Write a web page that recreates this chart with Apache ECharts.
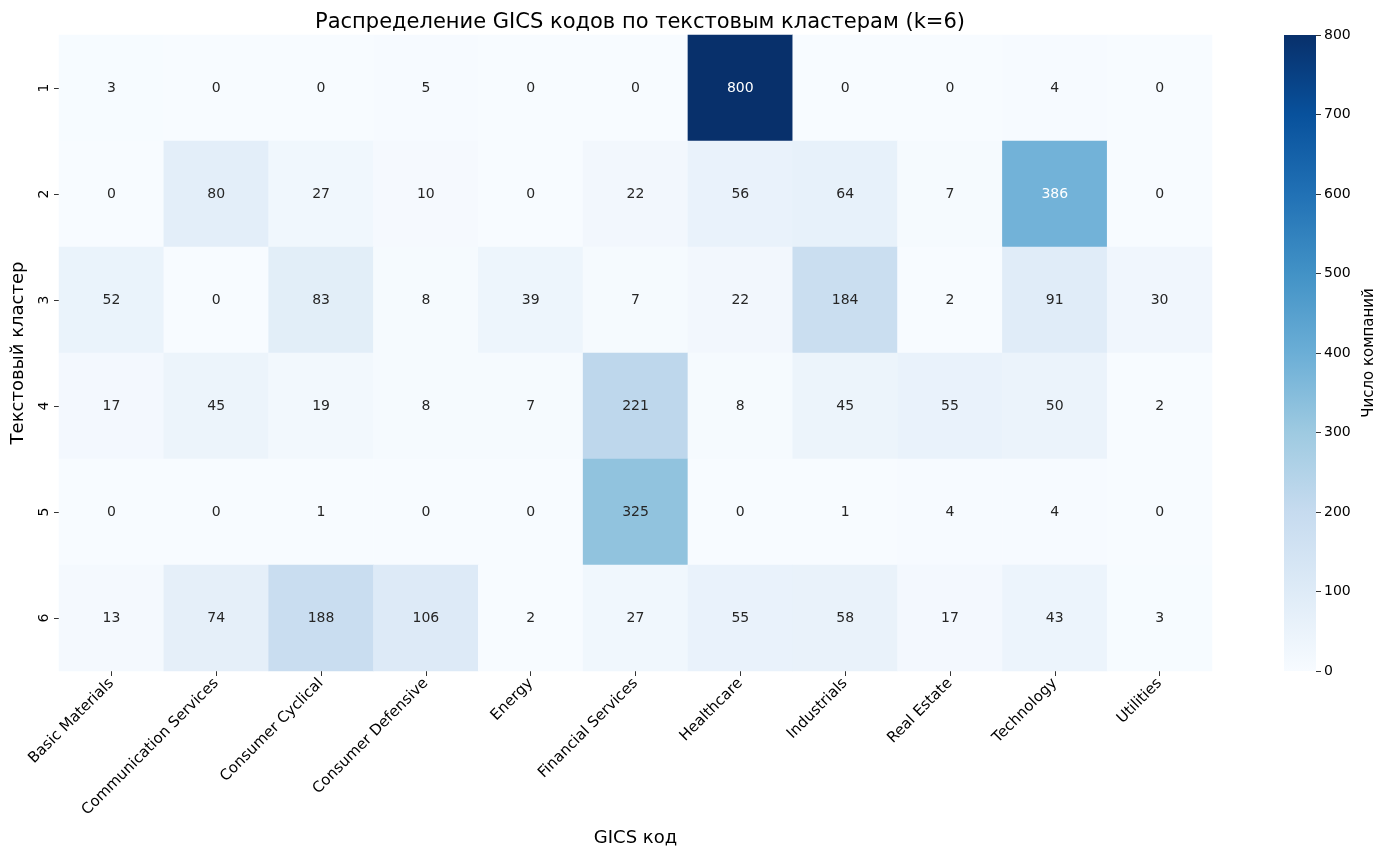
<!DOCTYPE html>
<html>
<head>
<meta charset="utf-8">
<script src="https://cdn.jsdelivr.net/npm/echarts@6/dist/echarts.min.js"></script>
<style>
html,body{margin:0;padding:0;background:#fff;}
#chart{width:1387px;height:859px;}
</style>
</head>
<body>
<div id="chart"></div>
<script>
const categories = ['Basic Materials','Communication Services','Consumer Cyclical','Consumer Defensive','Energy','Financial Services','Healthcare','Industrials','Real Estate','Technology','Utilities'];
const clusters = ['1','2','3','4','5','6'];
const row1 = [3,0,0,5,0,0,800,0,0,4,0];
const row2 = [0,80,27,10,0,22,56,64,7,386,0];
const row3 = [52,0,83,8,39,7,22,184,2,91,30];
const row4 = [17,45,19,8,7,221,8,45,55,50,2];
const row5 = [0,0,1,0,0,325,0,1,4,4,0];
const row6 = [13,74,188,106,2,27,55,58,17,43,3];
const rows = [row1,row2,row3,row4,row5,row6];
const colorbarTicks = [0,100,200,300,400,500,600,700,800];
const blues = ['#f7fbff','#deebf7','#c6dbef','#9ecae1','#6baed6','#4292c6','#2171b5','#08519c','#08306b'];
const vmin = 0, vmax = 800;

function hexToRgb(h){return [parseInt(h.slice(1,3),16),parseInt(h.slice(3,5),16),parseInt(h.slice(5,7),16)];}
function cmap(v){
  let t = Math.max(0, Math.min(1, (v - vmin) / (vmax - vmin))) * (blues.length - 1);
  let i = Math.min(Math.floor(t), blues.length - 2), f = t - i;
  const a = hexToRgb(blues[i]), b = hexToRgb(blues[i+1]);
  return a.map((c,k)=>c + (b[k]-c)*f);
}
function lum(rgb){
  const l = rgb.map(c=>{c/=255;return c<=0.03928? c/12.92 : Math.pow((c+0.055)/1.055,2.4);});
  return 0.2126*l[0]+0.7152*l[1]+0.0722*l[2];
}

const data = [];
rows.forEach((r, yi) => r.forEach((v, xi) => {
  const txt = lum(cmap(v)) > 0.408 ? '#262626' : '#ffffff';
  data.push({value:[xi, yi, v], label:{color: txt}});
}));

const FONT = 'DejaVu Sans';
const chart = echarts.init(document.getElementById('chart'), null, {renderer:'canvas'});
chart.setOption({
  backgroundColor:'#fff',
  animation:false,
  textStyle:{fontFamily:FONT},
  title:{
    text:'Распределение GICS кодов по текстовым кластерам (k=6)',
    left:635, top:7, textAlign:'center',
    textStyle:{fontFamily:FONT, fontSize:21, fontWeight:'normal', color:'#000'}
  },
  grid:[
    {left:59, right:175, top:35, bottom:188},
    {left:1284, width:32, top:35, bottom:188}
  ],
  xAxis:[
    {
      type:'category', data:categories, gridIndex:0,
      name:'GICS код', nameLocation:'middle', nameGap:158,
      nameTextStyle:{fontFamily:FONT, fontSize:18, color:'#000'},
      axisLine:{show:false},
      axisTick:{show:true, alignWithLabel:true, length:5, lineStyle:{color:'#333'}},
      axisLabel:{rotate:45, fontFamily:FONT, fontSize:15, color:'#000', margin:10, interval:0},
      splitArea:{show:false}
    },
    {type:'category', data:[''], gridIndex:1, show:false}
  ],
  yAxis:[
    {
      type:'category', data:clusters, gridIndex:0, inverse:true,
      name:'Текстовый кластер', nameLocation:'middle', nameGap:32,
      nameTextStyle:{fontFamily:FONT, fontSize:18, color:'#000'},
      axisLine:{show:false},
      axisTick:{show:true, alignWithLabel:true, length:5, lineStyle:{color:'#333'}},
      axisLabel:{rotate:90, fontFamily:FONT, fontSize:14, color:'#000', margin:8}
    },
    {
      type:'value', gridIndex:1, position:'right', min:0, max:800, interval:100,
      name:'Число компаний', nameLocation:'middle', nameGap:46, nameRotate:90,
      nameTextStyle:{fontFamily:FONT, fontSize:15, color:'#000'},
      axisLine:{show:false},
      axisTick:{show:true, length:5, lineStyle:{color:'#333'}},
      axisLabel:{fontFamily:FONT, fontSize:14, color:'#000', margin:8,
        formatter: v => colorbarTicks.includes(v) ? String(v) : ''},
      splitLine:{show:false}
    }
  ],
  visualMap:{
    show:false, type:'continuous', min:vmin, max:vmax, seriesIndex:0, dimension:2,
    inRange:{color:blues}
  },
  series:[
    {
      type:'heatmap', xAxisIndex:0, yAxisIndex:0, data:data,
      label:{show:true, fontFamily:FONT, fontSize:14, formatter: p => String(p.value[2])},
      itemStyle:{borderWidth:0},
      emphasis:{disabled:true}
    },
    {
      type:'bar', xAxisIndex:1, yAxisIndex:1, data:[vmax], barWidth:'100%', silent:true,
      itemStyle:{
        color: new echarts.graphic.LinearGradient(0,0,0,1,
          blues.slice().reverse().map((c,i)=>({offset:i/(blues.length-1), color:c})))
      }
    }
  ]
});
</script>
</body>
</html>
